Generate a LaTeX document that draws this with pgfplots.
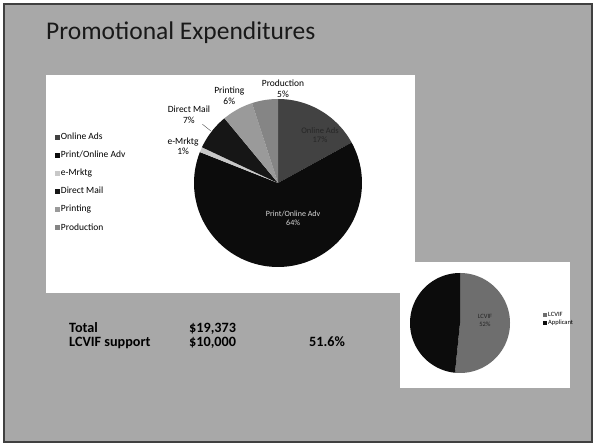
\documentclass[border=0pt]{standalone}
\usepackage{pgfplots}
\pgfplotsset{compat=1.18}
\usepackage{pgfplotstable}
\usepackage{fontspec}
\setmainfont{Carlito}

\definecolor{slidebg}{HTML}{A8A8A8}
\definecolor{slice0}{HTML}{424242}
\definecolor{slice1}{HTML}{0C0C0C}
\definecolor{slice2}{HTML}{C8C8C8}
\definecolor{slice3}{HTML}{161616}
\definecolor{slice4}{HTML}{9A9A9A}
\definecolor{slice5}{HTML}{858585}
\definecolor{small0}{HTML}{6E6E6E}
\definecolor{small1}{HTML}{0C0C0C}

% Promotional expenditures, percent of total
\pgfplotstableread{
name pct
OnlineAds 17
PrintOnlineAdv 64
eMrktg 1
DirectMail 7
Printing 6
Production 5
}\maintable

% LCVIF support share, percent
\pgfplotstableread{
name pct
LCVIF 51.6
Other 48.4
}\smalltable

% draws the slices of a pie from a table, clockwise from 12 o'clock
\newcommand{\pieslices}[3]{% #1 table, #2 last row index, #3 colour prefix
  \def\cum{0}%
  \pgfplotsforeachungrouped \i in {0,...,#2}{%
    \pgfplotstablegetelem{\i}{pct}\of#1%
    \pgfmathsetmacro\sa{90-3.6*\cum}%
    \pgfmathsetmacro\cumnew{\cum+\pgfplotsretval}%
    \pgfmathsetmacro\sb{90-3.6*\cumnew}%
    \edef\temp{\noexpand\addplot[draw=none, fill=#3\i, domain=\sb:\sa, samples=90]
      ({cos(x)},{sin(x)}) -- (axis cs:0,0) -- cycle;}%
    \temp
    \xdef\cum{\cumnew}%
  }%
}

\begin{document}
\begin{tikzpicture}
% page
\fill[white] (0,0) rectangle (596bp,446bp);
\fill[slidebg] (4bp,4bp) rectangle (592bp,442bp);
\draw[black!75, line width=1.5bp] (4bp,4bp) rectangle (592bp,442bp);
% title
\node[anchor=base west, inner sep=0pt, text=black!90, font=\fontsize{25.5bp}{30bp}\selectfont] at (46bp,406bp) {Promotional Expenditures};
% chart areas
\fill[white] (46bp,153bp) rectangle (415bp,371bp);
\fill[white] (400bp,58bp) rectangle (570bp,184bp);

% main pie
\begin{axis}[at={(278bp,263bp)}, anchor=center, width=168bp, height=168bp, scale only axis,
  xmin=-1, xmax=1, ymin=-1, ymax=1, hide axis, clip=false,
  legend image code/.code={\fill[#1] (0bp,-2.5bp) rectangle (5bp,2.5bp);},
  legend style={at={(-0.83,0.806)}, anchor=north west, draw=none, fill=none,
    font=\fontsize{9.5bp}{11bp}\selectfont, row sep=7.6bp, inner sep=0pt,
    nodes={inner sep=1.2bp}},
  legend cell align=left]
\pieslices{\maintable}{5}{slice}
\legend{Online Ads, Print/Online Adv, e-Mrktg, Direct Mail, Printing, Production}
\node[font=\fontsize{9.5bp}{10.5bp}\selectfont, align=center, text=black] at (axis cs:0.06,1.12) {Production\\5\%};
\node[font=\fontsize{9.5bp}{10.5bp}\selectfont, align=center, text=black] at (axis cs:-0.58,1.04) {Printing\\6\%};
\node[font=\fontsize{9.5bp}{10.5bp}\selectfont, align=center, text=black] at (axis cs:-1.06,0.81) {Direct Mail\\7\%};
\node[font=\fontsize{9.5bp}{10.5bp}\selectfont, align=center, text=black] at (axis cs:-1.13,0.44) {e-Mrktg\\1\%};
\draw[black!70, thin] (axis cs:-0.9,0.7) -- (axis cs:-0.8,0.62);
\node[font=\fontsize{8bp}{9bp}\selectfont, align=center, text=white!85!black] at (axis cs:0.18,-0.42) {Print/Online Adv\\64\%};
\node[font=\fontsize{8.5bp}{9.5bp}\selectfont, align=center, text=black!85] at (axis cs:0.5,0.57) {Online Ads\\17\%};
\end{axis}

% small pie
\begin{axis}[at={(460bp,123bp)}, anchor=center, width=100bp, height=100bp, scale only axis,
  xmin=-1, xmax=1, ymin=-1, ymax=1, hide axis, clip=false,
  legend image code/.code={\fill[#1] (0bp,-2bp) rectangle (4bp,2bp);},
  legend style={at={(1.33,0.62)}, anchor=north west, draw=none, fill=none,
    font=\fontsize{6.5bp}{7.5bp}\selectfont, row sep=0pt, inner sep=0pt,
    nodes={inner sep=1bp}},
  legend cell align=left]
\pieslices{\smalltable}{1}{small}
\legend{LCVIF, Applicant}
\node[font=\fontsize{6.5bp}{7.5bp}\selectfont, align=center, text=black!85] at (axis cs:0.5,0.05) {LCVIF\\52\%};
\end{axis}

% totals
\begin{scope}[every node/.style={anchor=base west, inner sep=0pt, font=\bfseries\fontsize{14.2bp}{16bp}\selectfont, text=black}]
\node at (69bp,113bp) {Total};
\node at (189bp,113bp) {\$19,373};
\node at (69bp,99bp) {LCVIF support};
\node at (189bp,99bp) {\$10,000};
\node at (309bp,99bp) {51.6\%};
\end{scope}
\end{tikzpicture}
\end{document}
